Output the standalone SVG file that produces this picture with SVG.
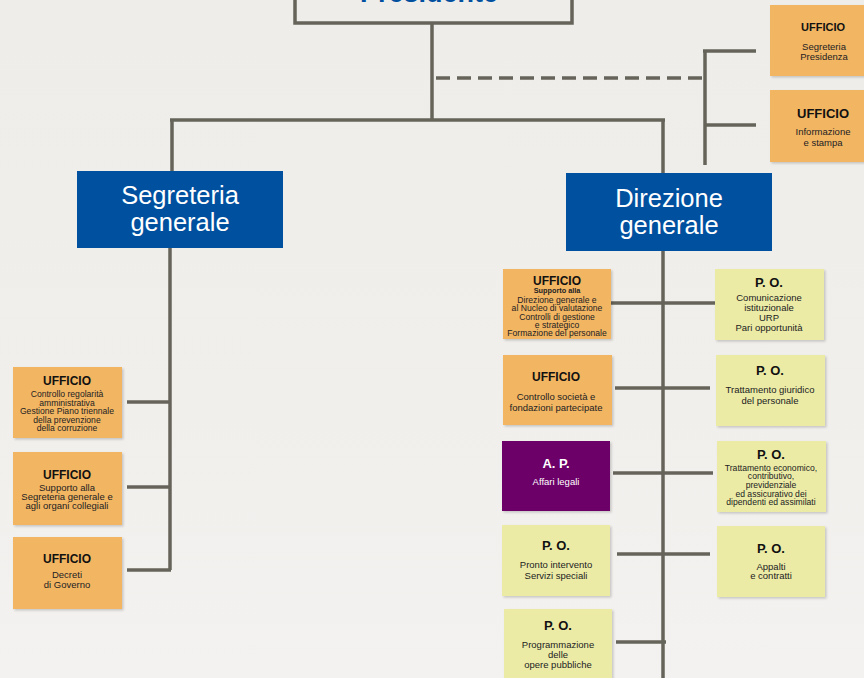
<svg xmlns="http://www.w3.org/2000/svg" width="864" height="678" viewBox="0 0 864 678">
<defs>
<linearGradient id="bg" x1="0" y1="0" x2="0" y2="1">
<stop offset="0" stop-color="#EFEDEA"/>
<stop offset="0.6" stop-color="#F1EFEC"/>
<stop offset="1" stop-color="#F4F2F0"/>
</linearGradient>
<filter id="sh" x="-10%" y="-10%" width="125%" height="125%">
<feDropShadow dx="1.5" dy="1.5" stdDeviation="1" flood-color="#000" flood-opacity="0.18"/>
</filter>
</defs>
<style>
text{font-family:"Liberation Sans",Arial,sans-serif;text-anchor:middle;fill:#222}
.or{fill:#F2B562;filter:url(#sh)}
.ye{fill:#EBEBA6;filter:url(#sh)}
.pu{fill:#6C0068;filter:url(#sh)}
.bl{fill:#0050A0}
.h{font-weight:bold;font-size:12px;fill:#111}
.s{font-size:9.5px;fill:#222}
.d{font-size:8.6px;fill:#222}
.big{font-size:25.5px;fill:#fff}
.ln{stroke:#66645A;stroke-width:3.5;fill:none}
.ds{stroke:#66645A;stroke-width:3.5;fill:none;stroke-dasharray:14,7}
</style>
<rect width="864" height="678" fill="url(#bg)"/>

<g id="connectors">
<line class="ln" x1="432" y1="24" x2="432" y2="121"/>
<line class="ln" x1="170" y1="120" x2="665" y2="120"/>
<line class="ln" x1="172" y1="119" x2="172" y2="171"/>
<line class="ln" x1="663" y1="119" x2="663" y2="173"/>
<line class="ds" x1="436" y1="78" x2="705" y2="78"/>
<line class="ln" x1="705" y1="50" x2="705" y2="165"/>
<line class="ln" x1="703" y1="51" x2="756" y2="51"/>
<line class="ln" x1="705" y1="125" x2="756" y2="125"/>
<line class="ln" x1="170" y1="248" x2="170" y2="570"/>
<line class="ln" x1="127" y1="402" x2="170" y2="402"/>
<line class="ln" x1="127" y1="487" x2="170" y2="487"/>
<line class="ln" x1="127" y1="570" x2="171" y2="570"/>
<line class="ln" x1="663" y1="251" x2="663" y2="678"/>
<line class="ln" x1="611" y1="303" x2="715" y2="303"/>
<line class="ln" x1="615" y1="388" x2="710" y2="388"/>
<line class="ln" x1="613" y1="473" x2="713" y2="473"/>
<line class="ln" x1="617" y1="554" x2="710" y2="554"/>
<line class="ln" x1="616" y1="642" x2="666" y2="642"/>
</g>

<g id="presidente">
<rect x="295" y="-10" width="277" height="33" fill="#EFEDEA" stroke="#66645A" stroke-width="3.5"/>
<text x="429" y="2" font-size="27" font-weight="bold" style="fill:#0050A0">Presidente</text>
</g>

<g id="uff-segreteria-presidenza">
<rect class="or" x="770" y="5" width="96" height="71"/>
<text class="h" x="823" y="31" style="font-size:11px">UFFICIO</text>
<text class="s" x="824" y="50">Segreteria</text>
<text class="s" x="824" y="60">Presidenza</text>
</g>

<g id="uff-informazione">
<rect class="or" x="770" y="90" width="96" height="72"/>
<text class="h" x="823" y="118" style="font-size:13px">UFFICIO</text>
<text class="s" x="823" y="135">Informazione</text>
<text class="s" x="823" y="146">e stampa</text>
</g>

<g id="segreteria-generale">
<rect class="bl" x="77" y="171" width="206" height="77"/>
<text class="big" x="180" y="204">Segreteria</text>
<text class="big" x="180" y="231">generale</text>
</g>

<g id="direzione-generale">
<rect class="bl" x="566" y="173" width="206" height="78"/>
<text class="big" x="669" y="207">Direzione</text>
<text class="big" x="669" y="234">generale</text>
</g>

<g id="uff-controllo-regolarita">
<rect class="or" x="13" y="367" width="109" height="71"/>
<text class="h" x="67" y="385">UFFICIO</text>
<text class="d" x="67" y="397">Controllo regolarità</text>
<text class="d" x="67" y="405.5">amministrativa</text>
<text class="d" x="67" y="414">Gestione Piano triennale</text>
<text class="d" x="67" y="422.5">della prevenzione</text>
<text class="d" x="67" y="431">della corruzione</text>
</g>

<g id="uff-supporto-segreteria">
<rect class="or" x="13" y="452" width="109" height="73"/>
<text class="h" x="67" y="479">UFFICIO</text>
<text class="s" x="67" y="491">Supporto alla</text>
<text class="s" x="67" y="500">Segreteria generale e</text>
<text class="s" x="67" y="509">agli organi collegiali</text>
</g>

<g id="uff-decreti">
<rect class="or" x="13" y="537" width="109" height="72"/>
<text class="h" x="67" y="563">UFFICIO</text>
<text class="s" x="67" y="578">Decreti</text>
<text class="s" x="67" y="588">di Governo</text>
</g>

<g id="uff-supporto-direzione">
<rect class="or" x="503" y="269" width="108" height="70"/>
<text class="h" x="557" y="285">UFFICIO</text>
<text class="d" x="557" y="293" style="font-size:7.3px;font-weight:bold">Supporto alla</text>
<text class="d" x="557" y="302.5">Direzione generale e</text>
<text class="d" x="557" y="311">al Nucleo di valutazione</text>
<text class="d" x="557" y="319.5">Controlli di gestione</text>
<text class="d" x="557" y="328">e strategico</text>
<text class="d" x="557" y="336">Formazione del personale</text>
</g>

<g id="po-comunicazione">
<rect class="ye" x="715" y="269" width="109" height="71"/>
<text class="h" x="769" y="287" style="font-size:13px">P. O.</text>
<text class="s" x="769" y="301">Comunicazione</text>
<text class="s" x="769" y="311">istituzionale</text>
<text class="s" x="769" y="321">URP</text>
<text class="s" x="769" y="331">Pari opportunità</text>
</g>

<g id="uff-controllo-societa">
<rect class="or" x="503" y="355" width="109" height="70"/>
<text class="h" x="556" y="381">UFFICIO</text>
<text class="s" x="556" y="400">Controllo società e</text>
<text class="s" x="556" y="411">fondazioni partecipate</text>
</g>

<g id="po-trattamento-giuridico">
<rect class="ye" x="716" y="355" width="109" height="71"/>
<text class="h" x="770" y="375" style="font-size:13px">P. O.</text>
<text class="s" x="770" y="393">Trattamento giuridico</text>
<text class="s" x="770" y="404">del personale</text>
</g>

<g id="ap-affari-legali">
<rect class="pu" x="502" y="441" width="108" height="70"/>
<text class="h" x="556" y="468" style="font-size:13px;fill:#fff">A. P.</text>
<text class="s" x="556" y="485" style="fill:#fff">Affari legali</text>
</g>

<g id="po-trattamento-economico">
<rect class="ye" x="717" y="441" width="109" height="71"/>
<text class="h" x="771" y="459" style="font-size:13px">P. O.</text>
<text class="d" x="771" y="470.5">Trattamento economico,</text>
<text class="d" x="771" y="479">contributivo,</text>
<text class="d" x="771" y="487.5">previdenziale</text>
<text class="d" x="771" y="496.5">ed assicurativo dei</text>
<text class="d" x="771" y="505">dipendenti ed assimilati</text>
</g>

<g id="po-pronto-intervento">
<rect class="ye" x="502" y="525" width="108" height="71"/>
<text class="h" x="556" y="550" style="font-size:13px">P. O.</text>
<text class="s" x="556" y="568">Pronto intervento</text>
<text class="s" x="556" y="579">Servizi speciali</text>
</g>

<g id="po-appalti">
<rect class="ye" x="717" y="526" width="108" height="71"/>
<text class="h" x="771" y="553" style="font-size:13px">P. O.</text>
<text class="s" x="771" y="570">Appalti</text>
<text class="s" x="771" y="579">e contratti</text>
</g>

<g id="po-programmazione">
<rect class="ye" x="504" y="609" width="108" height="75"/>
<text class="h" x="558" y="630" style="font-size:13px">P. O.</text>
<text class="s" x="558" y="648">Programmazione</text>
<text class="s" x="558" y="658">delle</text>
<text class="s" x="558" y="668">opere pubbliche</text>
</g>
</svg>
